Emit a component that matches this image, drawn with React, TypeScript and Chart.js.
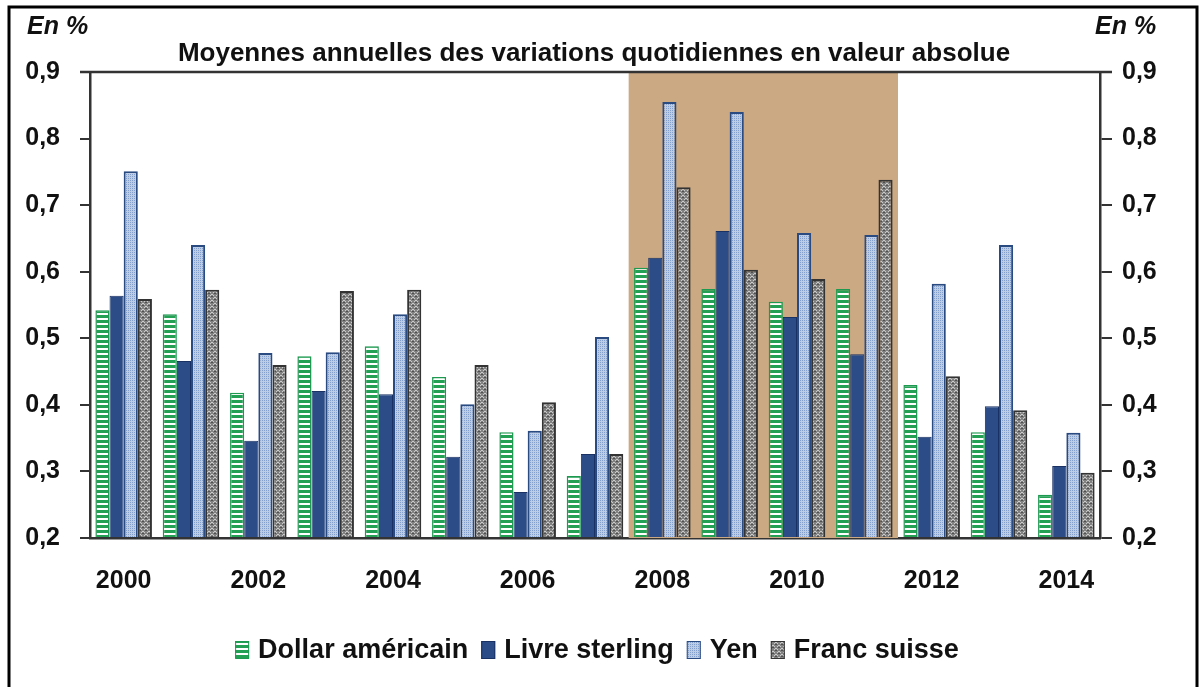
import React, { useEffect, useRef } from "react";
import { Chart, registerables } from "chart.js";

Chart.register(...registerables);

const years = ["2000", "2001", "2002", "2003", "2004", "2005", "2006", "2007", "2008", "2009", "2010", "2011", "2012", "2013", "2014"];
const dollar = [0.542, 0.536, 0.418, 0.473, 0.488, 0.442, 0.359, 0.293, 0.606, 0.574, 0.555, 0.574, 0.430, 0.359, 0.265];
const livre = [0.564, 0.466, 0.346, 0.421, 0.416, 0.322, 0.269, 0.326, 0.621, 0.661, 0.532, 0.476, 0.352, 0.398, 0.308];
const yen = [0.751, 0.640, 0.478, 0.479, 0.536, 0.401, 0.361, 0.502, 0.855, 0.840, 0.658, 0.655, 0.582, 0.640, 0.358];
const franc = [0.559, 0.573, 0.460, 0.571, 0.573, 0.460, 0.404, 0.326, 0.727, 0.603, 0.589, 0.738, 0.443, 0.392, 0.298];
const seriesNames = ["Dollar américain", "Livre sterling", "Yen", "Franc suisse"];
const shadedRange = ["2008", "2011"];
const titleText = "Moyennes annuelles des variations quotidiennes en valeur absolue";
const unitText = "En %";

const FONT = "'Liberation Sans', Arial, sans-serif";

function makePattern(kind: string): CanvasPattern | string {
  const c = document.createElement("canvas");
  const g = c.getContext("2d")!;
  if (kind === "green") {
    c.width = 5; c.height = 5;
    g.fillStyle = "#ffffff"; g.fillRect(0, 0, 5, 5);
    g.fillStyle = "#24a055"; g.fillRect(0, 0, 5, 3);
  } else if (kind === "yen") {
    c.width = 2; c.height = 2;
    g.fillStyle = "#bccde8"; g.fillRect(0, 0, 2, 2);
    g.fillStyle = "#859fcb"; g.fillRect(0, 0, 1, 1);
  } else {
    c.width = 6; c.height = 6;
    g.fillStyle = "#828282"; g.fillRect(0, 0, 6, 6);
    g.fillStyle = "#cbcbcb";
    g.fillRect(1, 0, 2, 1); g.fillRect(0, 1, 1, 1); g.fillRect(3, 1, 1, 1);
    g.fillRect(4, 3, 2, 1); g.fillRect(3, 4, 1, 1); g.fillRect(0, 4, 1, 1);
    g.fillStyle = "#505050";
    g.fillRect(1, 2, 2, 1); g.fillRect(4, 5, 2, 1);
  }
  return g.createPattern(c, "repeat")!;
}

export default function App() {
  const ref = useRef<HTMLCanvasElement>(null);
  useEffect(() => {
    document.body.style.margin = "0";
    const canvas = ref.current!;
    const fills = [makePattern("green"), "#2b4c87", makePattern("yen"), makePattern("franc")];
    const borders = ["#1e9950", "#1a3163", "#2a4a82", "#333333"];
    const borderW = [1.5, 1, 2, 2];
    const values = [dollar, livre, yen, franc];

    const decor = {
      id: "decor",
      beforeDatasetsDraw(chart: any) {
        const { ctx, chartArea, scales } = chart;
        const x = scales.x;
        const cw = (x.right - x.left) / years.length;
        const i0 = years.indexOf(shadedRange[0]);
        const i1 = years.indexOf(shadedRange[1]);
        ctx.save();
        ctx.fillStyle = "#cba983";
        ctx.fillRect(x.left + i0 * cw, chartArea.top, (i1 - i0 + 1) * cw, chartArea.bottom - chartArea.top);
        ctx.restore();
      },
      afterDraw(chart: any) {
        const { ctx, chartArea } = chart;
        ctx.save();
        ctx.strokeStyle = "#333";
        ctx.lineWidth = 2.5;
        ctx.beginPath();
        ctx.moveTo(80, chartArea.top);
        ctx.lineTo(1112, chartArea.top);
        ctx.stroke();
        ctx.strokeStyle = "#000";
        ctx.lineWidth = 3;
        ctx.beginPath();
        ctx.moveTo(9, 700); ctx.lineTo(9, 7); ctx.lineTo(1197, 7); ctx.lineTo(1197, 700);
        ctx.stroke();
        ctx.fillStyle = "#111";
        ctx.font = `italic bold 25px ${FONT}`;
        ctx.textBaseline = "alphabetic";
        ctx.textAlign = "left";
        ctx.fillText(unitText, 27, 34);
        ctx.fillText(unitText, 1095, 34);
        ctx.font = `bold 26px ${FONT}`;
        ctx.textAlign = "center";
        ctx.fillText(titleText, 594, 61);
        ctx.font = `bold 27px ${FONT}`;
        const boxW = 14, boxH = 18, gapBT = 9, gapItem = 13;
        const widths = seriesNames.map((n) => ctx.measureText(n).width);
        const total = widths.reduce((a, b) => a + b, 0) + seriesNames.length * (boxW + gapBT) + (seriesNames.length - 1) * gapItem;
        let lx = 597 - total / 2;
        const ly = 650;
        ctx.textAlign = "left";
        ctx.textBaseline = "middle";
        seriesNames.forEach((n, i) => {
          ctx.fillStyle = fills[i] as any;
          ctx.fillRect(lx, ly - boxH / 2, boxW, boxH);
          ctx.strokeStyle = borders[i];
          ctx.lineWidth = 1;
          ctx.strokeRect(lx + 0.5, ly - boxH / 2 + 0.5, boxW - 1, boxH - 1);
          lx += boxW + gapBT;
          ctx.fillStyle = "#111";
          ctx.fillText(n, lx, ly + 1);
          lx += widths[i] + gapItem;
        });
        ctx.restore();
      },
    };

    const tickFont = { family: FONT, size: 25, weight: "bold" as const };
    const chart = new Chart(canvas, {
      type: "bar",
      data: {
        labels: years,
        datasets: seriesNames.map((name, i) => ({
          label: name,
          data: values[i],
          base: 0.2,
          backgroundColor: fills[i] as any,
          borderColor: borders[i],
          borderWidth: borderW[i],
          categoryPercentage: 0.84,
          barPercentage: 1.0,
          yAxisID: "y",
        })),
      },
      options: {
        responsive: false,
        animation: false,
        layout: { padding: { top: 72, bottom: 0, left: 0, right: 0 } },
        plugins: { legend: { display: false }, title: { display: false }, tooltip: { enabled: false } },
        scales: {
          x: {
            grid: { display: false, drawTicks: false },
            border: { display: true, color: "#333", width: 2.5 },
            ticks: {
              padding: 28,
              autoSkip: false,
              maxRotation: 0,
              color: "#111",
              font: tickFont,
              callback: (_v: any, i: number) => (i % 2 === 0 ? years[i] : ""),
            },
            afterFit: (s: any) => { s.height = 149; },
          },
          y: {
            position: "left",
            min: 0.2,
            max: 0.9,
            grid: { display: true, drawOnChartArea: false, drawTicks: true, tickLength: 10, color: "#333", lineWidth: 2 },
            border: { display: true, color: "#333", width: 2.5 },
            ticks: {
              stepSize: 0.1,
              padding: 20,
              color: "#111",
              font: tickFont,
              callback: (v: any) => Number(v).toFixed(1).replace(".", ","),
            },
            afterFit: (s: any) => { s.width = 90; },
          },
          y2: {
            position: "right",
            min: 0.2,
            max: 0.9,
            grid: { display: true, drawOnChartArea: false, drawTicks: true, tickLength: 12, color: "#333", lineWidth: 2 },
            border: { display: true, color: "#333", width: 2.5 },
            ticks: {
              stepSize: 0.1,
              padding: 10,
              color: "#111",
              font: tickFont,
              callback: (v: any) => Number(v).toFixed(1).replace(".", ","),
            },
            afterFit: (s: any) => { s.width = 100; },
          },
        },
      },
      plugins: [decor],
    });
    return () => chart.destroy();
  }, []);
  return (
    <div style={{ width: 1200, height: 687, position: "relative", background: "#fff" }}>
      <canvas ref={ref} width={1200} height={687} style={{ display: "block", width: 1200, height: 687 }} />
    </div>
  );
}
